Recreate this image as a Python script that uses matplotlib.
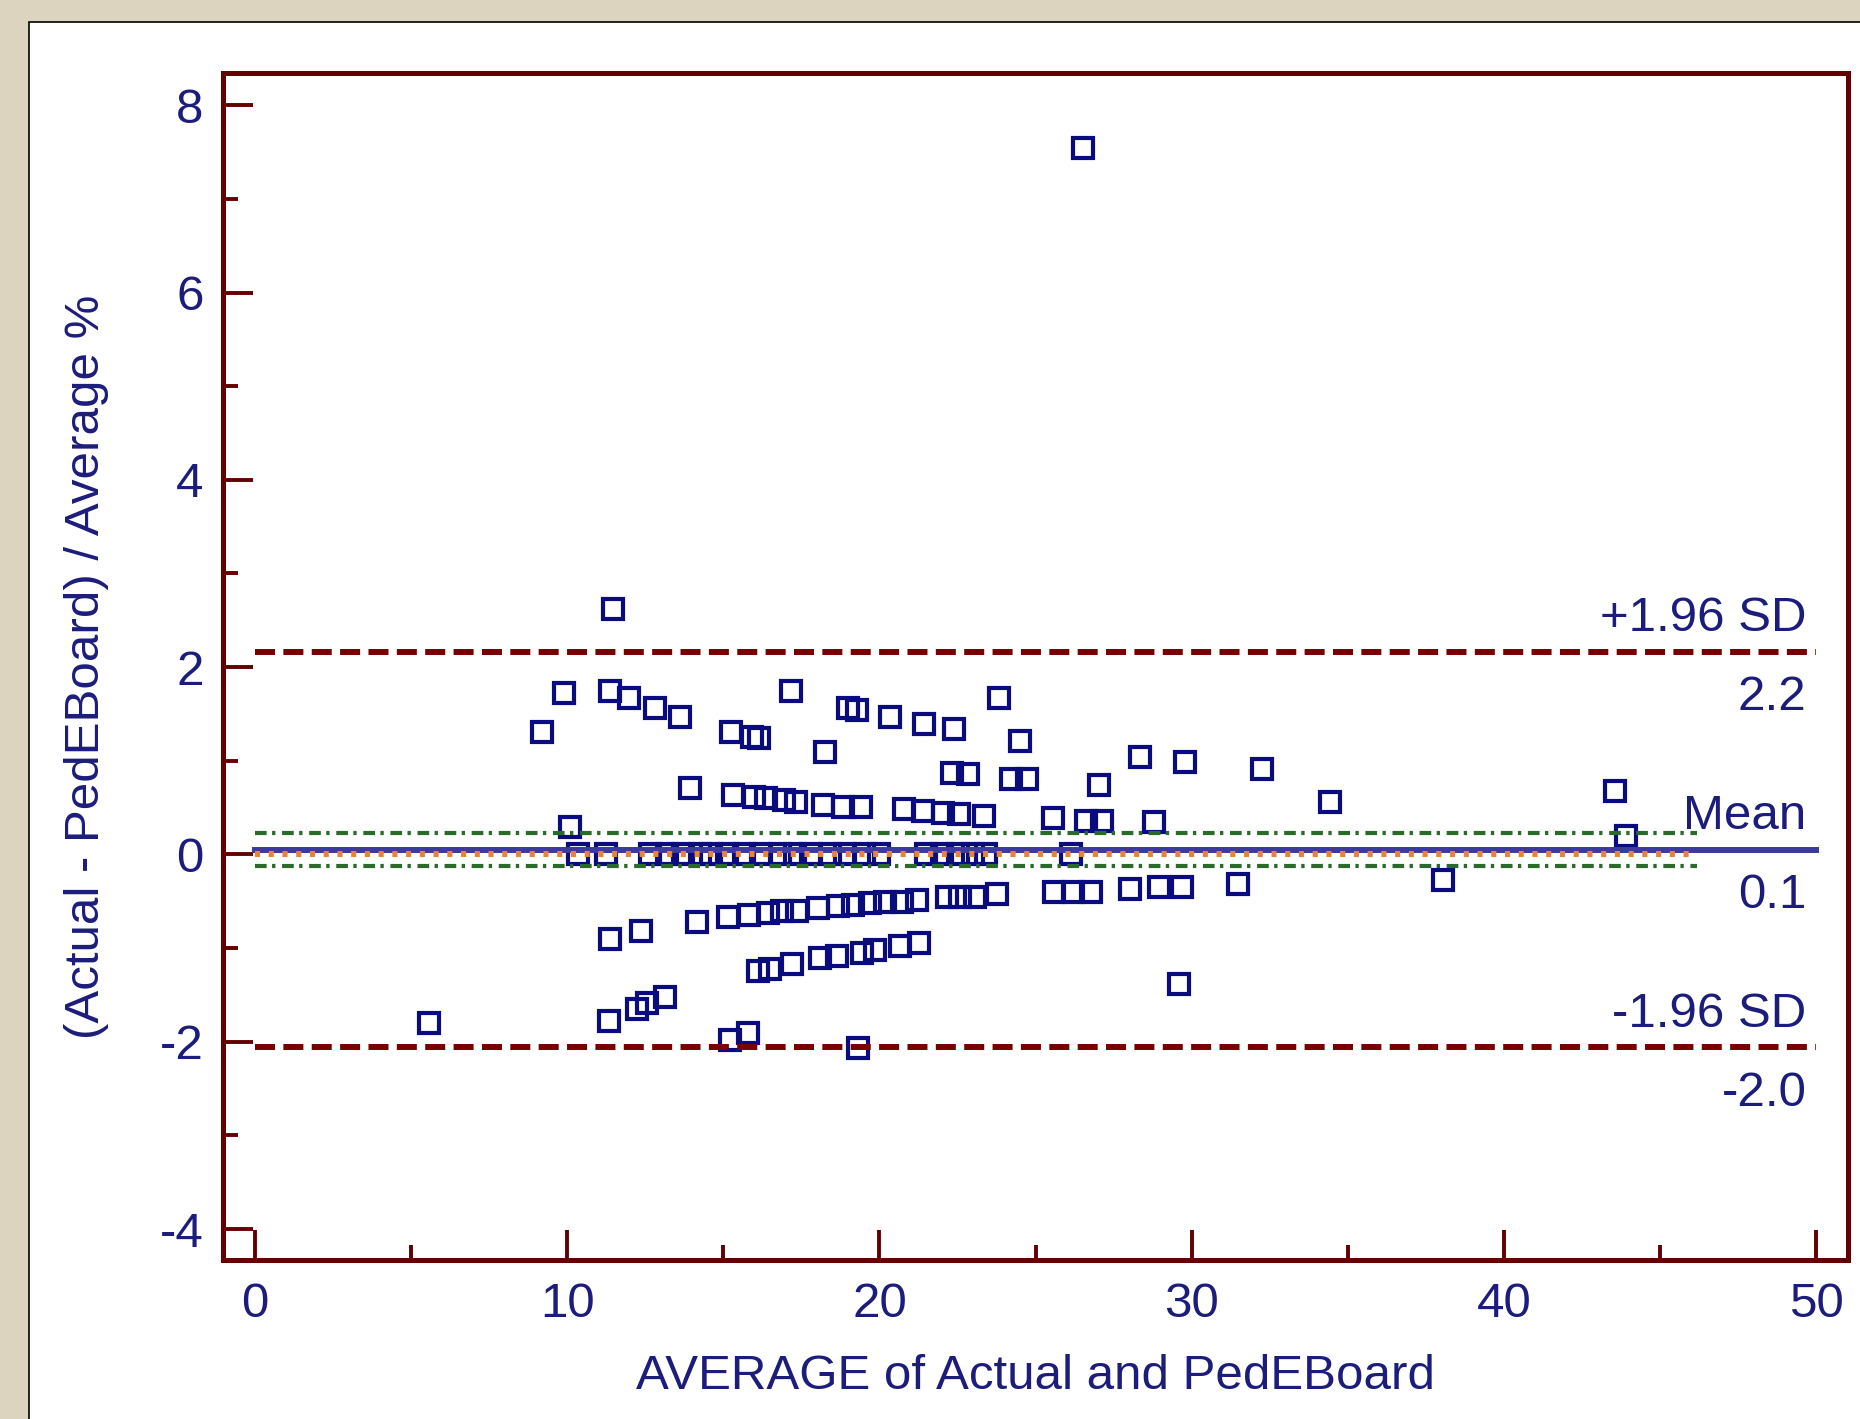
import matplotlib
matplotlib.use("Agg")
import matplotlib.pyplot as plt
from matplotlib.patches import Rectangle
from matplotlib.ticker import MultipleLocator

plt.rcParams['font.family'] = ['Liberation Sans', 'DejaVu Sans']
plt.rcParams['axes.unicode_minus'] = False

# average of the two methods (x) and difference in % (y)
avg = [26.52, 11.46, 9.20, 9.88, 11.37, 11.99, 12.80, 13.60, 15.23, 15.91,
       16.14, 17.17, 18.24, 19.00, 19.28, 20.34, 21.42, 22.38, 23.83, 24.49,
       22.32, 22.83, 24.21, 24.72, 13.93, 27.04, 28.35, 29.78, 32.25, 34.42,
       43.55, 43.90, 10.09,
       15.31, 15.99, 16.37, 16.94, 17.34, 18.19, 18.83, 19.40, 20.78, 21.40,
       22.03, 22.55, 23.35, 25.56, 26.61, 27.12, 28.80,
       10.35, 11.25, 12.65, 13.20, 13.70, 14.25, 14.60, 15.10, 15.65, 16.20,
       16.80, 17.30, 17.80, 18.40, 18.90, 19.50, 20.00, 21.50, 22.00, 22.50,
       23.00, 23.40, 26.15,
       5.58, 11.37, 12.36, 11.32, 12.22, 12.55, 13.13, 14.15,
       15.16, 15.83, 16.44, 16.87, 17.35, 18.04, 18.68, 19.16, 19.70, 20.18,
       20.71, 21.19, 22.16, 22.58, 23.06, 23.75,
       16.12, 16.50, 17.19, 18.10, 18.63, 19.43, 19.86, 20.66, 21.28,
       15.21, 15.80, 19.32,
       25.58, 26.21, 26.78, 28.04, 28.95, 29.69, 31.50, 29.60, 38.05]
diff = [7.54, 2.62, 1.31, 1.72, 1.74, 1.67, 1.56, 1.47, 1.31, 1.25,
        1.24, 1.74, 1.09, 1.56, 1.54, 1.47, 1.39, 1.34, 1.67, 1.21,
        0.87, 0.86, 0.81, 0.81, 0.71, 0.74, 1.04, 0.99, 0.91, 0.56,
        0.68, 0.20, 0.29,
        0.63, 0.61, 0.60, 0.58, 0.56, 0.53, 0.51, 0.51, 0.49, 0.46,
        0.44, 0.43, 0.41, 0.39, 0.36, 0.36, 0.35,
        0.0, 0.0, 0.0, 0.0, 0.0, 0.0, 0.0, 0.0, 0.0, 0.0,
        0.0, 0.0, 0.0, 0.0, 0.0, 0.0, 0.0, 0.0, 0.0, 0.0,
        0.0, 0.0, 0.0,
        -1.80, -0.90, -0.82, -1.78, -1.65, -1.59, -1.52, -0.72,
        -0.67, -0.65, -0.63, -0.60, -0.60, -0.57, -0.55, -0.54, -0.52, -0.51,
        -0.51, -0.49, -0.46, -0.45, -0.45, -0.42,
        -1.25, -1.22, -1.17, -1.11, -1.09, -1.05, -1.02, -0.98, -0.95,
        -1.98, -1.91, -2.07,
        -0.40, -0.40, -0.40, -0.37, -0.35, -0.35, -0.32, -1.38, -0.27]

mean_diff = 0.05
upper_loa = 2.16
lower_loa = -2.06
ci_hi = 0.23
ci_lo = -0.12
line_end = 46.2

right_labels = [(upper_loa, '+1.96 SD', '2.2'),
                (mean_diff, 'Mean', '0.1'),
                (lower_loa, '-1.96 SD', '-2.0')]

navy = '#1c1c7c'
dark_red = '#640000'
fs = 35.5

fig = plt.figure(figsize=(18.6, 14.19), dpi=100, facecolor='#ddd4bf')
fig.patches.append(Rectangle((29 / 1860, -0.05), 1.2, 1 - 22 / 1419 + 0.05,
                             transform=fig.transFigure, fc='white',
                             ec='black', lw=1.2, zorder=-1))

ax = fig.add_axes([0.1199, 0.1121, 0.8737, 0.8362])
ax.set_xlim(-1.03, 51.03)
ax.set_ylim(-4.33, 8.34)

for s in ax.spines.values():
    s.set_color(dark_red)
    s.set_linewidth(3.6)

ax.xaxis.set_major_locator(MultipleLocator(10))
ax.xaxis.set_minor_locator(MultipleLocator(5))
ax.yaxis.set_major_locator(MultipleLocator(2))
ax.yaxis.set_minor_locator(MultipleLocator(1))
ax.tick_params(which='both', direction='in', color=dark_red, width=2.8,
               labelcolor=navy, labelsize=fs)
ax.tick_params(which='major', length=21.5)
ax.tick_params(which='minor', length=11)
ax.tick_params(axis='x', pad=16)
ax.tick_params(axis='y', pad=14)

# scatter of the differences
ax.plot(avg, diff, ls='none', marker='s', ms=14.5, mfc='none',
        mec='#0b0b80', mew=3, zorder=2)

# limits of agreement, mean, CI of mean and line of equality
for y in (upper_loa, lower_loa):
    ax.plot([0, 50], [y, y], color='#780000', lw=4.3, dashes=(3.35, 1.4),
            dash_capstyle='butt', zorder=3)
ax.plot([0, 50], [mean_diff, mean_diff], color='#3b3b9c', lw=4.3, zorder=3)
ax.plot([0, line_end], [0, 0], color='#e8843a', lw=4.3, dashes=(0.85, 1.45),
        dash_capstyle='butt', zorder=3)
for y in (ci_hi, ci_lo):
    ax.plot([0, line_end], [y, y], color='#2a6b2a', lw=3,
            dashes=(2.8, 1.3, 0.8, 1.6), dash_capstyle='butt', zorder=3)

for y, top, bottom in right_labels:
    ax.annotate(top, (49.7, y), xytext=(0, 15), textcoords='offset points',
                ha='right', va='baseline', fontsize=fs, color=navy)
    ax.annotate(bottom, (49.7, y), xytext=(0, -42), textcoords='offset points',
                ha='right', va='baseline', fontsize=fs, color=navy)

ax.set_xlabel('AVERAGE of Actual and PedEBoard', fontsize=fs, color=navy)
ax.xaxis.label.set_va('center')
ax.xaxis.set_label_coords(0.5, (1260 - 1377) / 1186.5)
ax.set_ylabel('(Actual - PedEBoard) / Average %', fontsize=fs, color=navy)
ax.yaxis.label.set_va('center')
ax.yaxis.set_label_coords((86 - 223) / 1625, 0.5)

fig.savefig('out.png', dpi=100, facecolor=fig.get_facecolor())
